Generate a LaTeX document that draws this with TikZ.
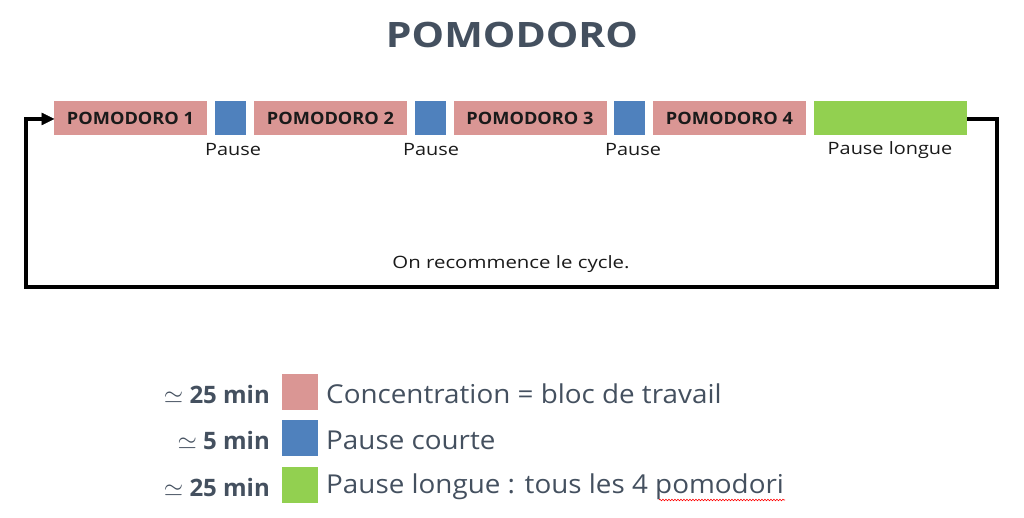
\documentclass[tikz,border=0pt]{standalone}
\usepackage{fontspec}
\setmainfont{Open Sans}
\usetikzlibrary{arrows.meta,decorations.pathmorphing}
\definecolor{pomo}{HTML}{DA9694}
\definecolor{pblue}{HTML}{4F81BD}
\definecolor{pgreen}{HTML}{92D050}
\definecolor{slate}{HTML}{44505F}
\definecolor{ink}{HTML}{1A1A1A}
\tikzset{
  pomobox/.style={fill=pomo, draw=none, minimum width=153pt, minimum height=34pt, inner sep=0pt, font=\fontsize{17}{17}\selectfont\bfseries\addfontfeature{FakeStretch=1.07}, text=ink},
  pausebox/.style={fill=pblue, draw=none, minimum width=31pt, minimum height=34pt, inner sep=0pt},
  longbox/.style={fill=pgreen, draw=none, minimum width=153pt, minimum height=34pt, inner sep=0pt},
  plabel/.style={font=\fontsize{17}{17}\selectfont\addfontfeature{FakeStretch=1.17}, text=ink, inner sep=0pt},
  loop/.style={line width=4.5pt, black},
  legsq/.style={minimum width=36pt, minimum height=36pt, inner sep=0pt, draw=none},
  legtxt/.style={font=\fontsize{26}{26}\selectfont\addfontfeature{FakeStretch=1.07}, text=slate, anchor=west, inner sep=0pt},
  legdur/.style={font=\fontsize{24}{24}\selectfont\bfseries, text=slate, anchor=east, inner sep=0pt}
}
\begin{document}
\begin{tikzpicture}[x=1pt,y=-1pt]
\useasboundingbox (0,0) rectangle (1024,518);
\node[font=\fontsize{35}{35}\selectfont\bfseries\addfontfeature{FakeStretch=1.17}, text=slate] (title) at (512,35) {POMODORO};

\node[pomobox, text depth=0pt] (p1) at (130.5,118) {POMODORO 1};
\node[pausebox] (b1) at (230.5,118) {};
\node[pomobox, text depth=0pt] (p2) at (330.5,118) {POMODORO 2};
\node[pausebox] (b2) at (430.5,118) {};
\node[pomobox, text depth=0pt] (p3) at (530,118) {POMODORO 3};
\node[pausebox] (b3) at (629.5,118) {};
\node[pomobox, text depth=0pt] (p4) at (729.5,118) {POMODORO 4};
\node[longbox] (g) at (890.5,118) {};

\node[plabel] (l1) at (233,150) {Pause};
\node[plabel] (l2) at (431,150) {Pause};
\node[plabel] (l3) at (633,150) {Pause};
\node[plabel] (l4) at (890,150) {Pause longue};

\coordinate (c1) at (997,119);
\coordinate (c2) at (997,287);
\coordinate (c3) at (26,287);
\coordinate (c4) at (26,119);
\draw[loop] (g.east|-c1) -- (c1) -- (c2) -- (c3) -- (c4) -- ([xshift=-10pt]p1.west|-c4);
\draw[black, fill=black] (p1.west|-c4) -- ++(-12,-6) -- ++(0,12) -- cycle;
\node[plabel, font=\fontsize{17}{17}\selectfont\addfontfeature{FakeStretch=1.2}] (cyc) at (511,264) {On recommence le cycle.};

\node[legsq, fill=pomo] (s1) at (300,392) {};
\node[legsq, fill=pblue] (s2) at (300,438) {};
\node[legsq, fill=pgreen] (s3) at (300,485) {};
\node[legdur] (d1) at (270,394) {$\simeq$ 25 min};
\node[legdur] (d2) at (270,440) {$\simeq$ 5 min};
\node[legdur] (d3) at (270,487) {$\simeq$ 25 min};
\node[legtxt] (t1) at (326,394) {Concentration = bloc de travail};
\node[legtxt] (t2) at (326,440) {Pause courte};
\node[legtxt] (t3) at (326,487) {Pause longue : tous les 4 \smash{pomodori}};
\draw[red, line width=0.6pt, decorate, decoration={snake, amplitude=0.8pt, segment length=3pt}] (659,500) -- (785,500);
\end{tikzpicture}
\end{document}
